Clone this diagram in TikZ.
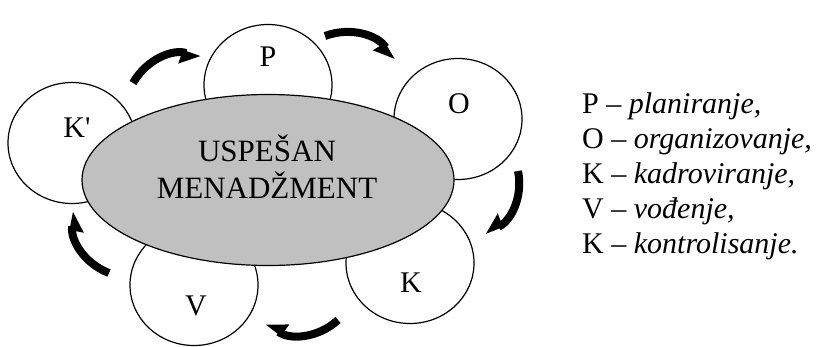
\documentclass[tikz,border=0pt]{standalone}
\usepackage{fontspec}
\setmainfont{Liberation Serif}
\usetikzlibrary{arrows.meta,shapes.geometric}

\definecolor{coregray}{HTML}{C0C0C0}

\begin{document}
\begin{tikzpicture}[x=1pt,y=-1pt,
  phase/.style={draw, fill=white, ellipse, line width=1.2pt,
    minimum width=128pt, minimum height=121pt, inner sep=0pt},
  core/.style={draw, fill=coregray, ellipse, line width=1.2pt,
    minimum width=372pt, minimum height=171pt, inner sep=0pt},
  letter/.style={font=\fontsize{30}{36}\selectfont, inner sep=0pt},
  flow/.style={line width=8pt, -{Triangle[length=16pt,width=24pt,right]}, bend left=40}]

\useasboundingbox (0,0) rectangle (829,346);

% Phase circles (behind the ellipse)
\node[phase] (P)  at (268,85)  {};
\node[phase] (O)  at (458,119) {};
\node[phase] (K)  at (410,263) {};
\node[phase] (V)  at (194,285) {};
\node[phase] (Kc) at (72,143)  {};

% Central ellipse
\node[core] (mgmt) at (268,180) {};
\node[letter, align=center, font=\fontsize{31}{37}\selectfont] (title) at (267,167) {USPEŠAN\\MENADŽMENT};

% Letters
\node[letter] (lP)  at (268,57)  {P};
\node[letter] (lO)  at (459,104) {O};
\node[letter] (lK)  at (411,283) {K};
\node[letter] (lV)  at (196,306) {V};
\node[letter] (lKc) at (77,128)  {K\textquotesingle};

% Arrows between phases
\coordinate (a1) at (133,83);  \coordinate (b1) at (200,58);
\coordinate (a2) at (325,36);  \coordinate (b2) at (393,60);
\coordinate (a3) at (518,171); \coordinate (b3) at (485,232);
\coordinate (a4) at (338,320); \coordinate (b4) at (267,323);
\coordinate (a5) at (109,273); \coordinate (b5) at (75,212);
\draw[flow] (a1) to (b1);
\draw[flow] (a2) to (b2);
\draw[flow] (a3) to (b3);
\draw[flow] (a4) to (b4);
\draw[flow] (a5) to (b5);

% Legend
\foreach \y/\l/\w [count=\i] in {113/P/{planiranje,}, 148/O/{organizovanje,},
    183/K/{kadroviranje,}, 218/V/{vođenje,}, 253/K/{kontrolisanje.}}
  \node[letter, anchor=base west] (leg\i) at (582,\y) {\l~–~\textit{\w}};

\end{tikzpicture}
\end{document}
